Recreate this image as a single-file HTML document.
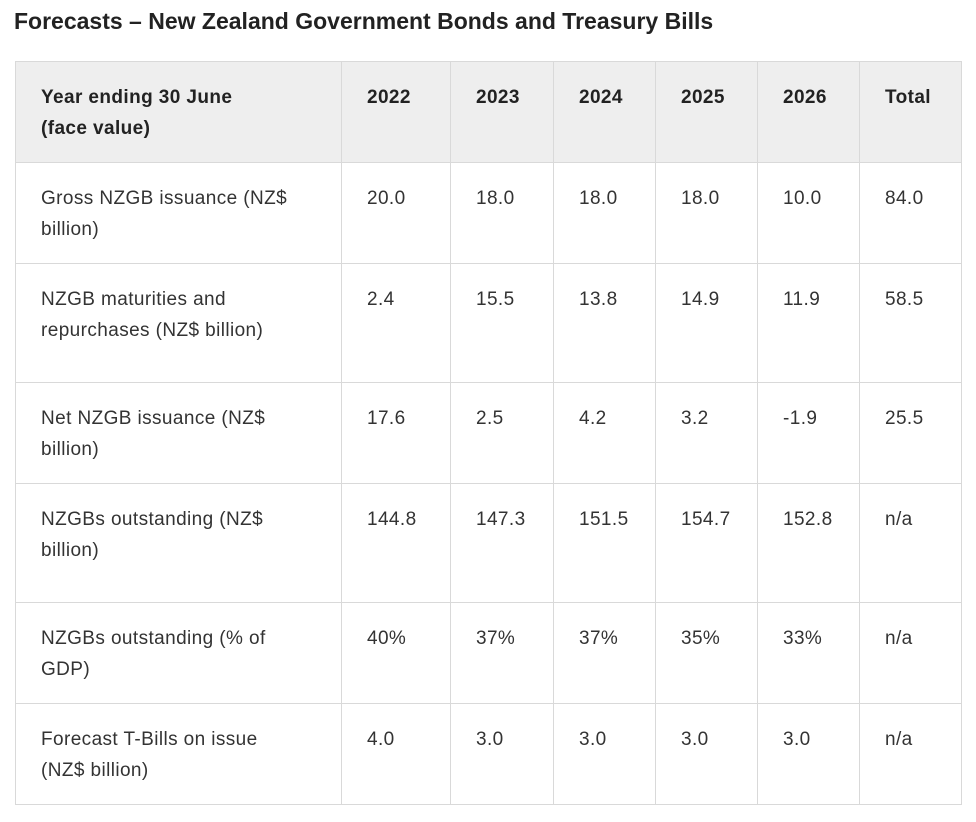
<!DOCTYPE html>
<html><head><meta charset="utf-8">
<style>
html,body{margin:0;padding:0;background:#fff;width:976px;height:822px;overflow:hidden;}
body{font-family:"Liberation Sans",sans-serif;color:#333;}
h1{position:absolute;left:14px;top:8px;margin:0;font-size:23px;font-weight:bold;color:#222;letter-spacing:0px;white-space:nowrap;}
table{position:absolute;left:15px;top:61px;border-collapse:collapse;table-layout:fixed;width:946px;}
td,th{border:1px solid #d9d9d9;vertical-align:top;text-align:left;padding:20px 4px 0 25px;font-size:19px;line-height:31px;white-space:nowrap;letter-spacing:0.4px;}
th{background:#eeeeee;font-weight:bold;color:#222;}
td{color:#333;}
</style></head><body>
<h1>Forecasts – New Zealand Government Bonds and Treasury Bills</h1>
<table>
<colgroup><col style="width:326px"><col style="width:109px"><col style="width:103px"><col style="width:102px"><col style="width:102px"><col style="width:102px"><col style="width:102px"></colgroup>
<tr style="height:101px">
<th>Year ending 30 June<br>(face value)</th>
<th>2022</th><th>2023</th><th>2024</th><th>2025</th><th>2026</th><th>Total</th></tr>
<tr style="height:101px"><td>Gross NZGB issuance (NZ$<br>billion)</td><td>20.0</td><td>18.0</td><td>18.0</td><td>18.0</td><td>10.0</td><td>84.0</td></tr>
<tr style="height:119px"><td>NZGB maturities and<br>repurchases (NZ$ billion)</td><td>2.4</td><td>15.5</td><td>13.8</td><td>14.9</td><td>11.9</td><td>58.5</td></tr>
<tr style="height:101px"><td>Net NZGB issuance (NZ$<br>billion)</td><td>17.6</td><td>2.5</td><td>4.2</td><td>3.2</td><td>-1.9</td><td>25.5</td></tr>
<tr style="height:119px"><td>NZGBs outstanding (NZ$<br>billion)</td><td>144.8</td><td>147.3</td><td>151.5</td><td>154.7</td><td>152.8</td><td>n/a</td></tr>
<tr style="height:101px"><td>NZGBs outstanding (% of<br>GDP)</td><td>40%</td><td>37%</td><td>37%</td><td>35%</td><td>33%</td><td>n/a</td></tr>
<tr style="height:101px"><td>Forecast T-Bills on issue<br>(NZ$ billion)</td><td>4.0</td><td>3.0</td><td>3.0</td><td>3.0</td><td>3.0</td><td>n/a</td></tr>
</table>
</body></html>
